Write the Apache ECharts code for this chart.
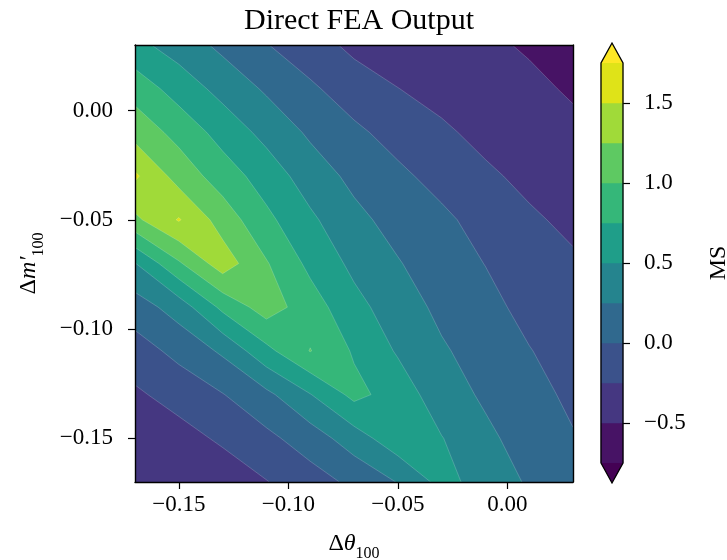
<!DOCTYPE html>
<html>
<head>
<meta charset="utf-8">
<title>Direct FEA Output</title>
<script src="https://cdn.jsdelivr.net/npm/echarts@6.0.0/dist/echarts.min.js"></script>
<style>
html,body{margin:0;padding:0;background:#fff;}
#chart{width:727px;height:560px;}
</style>
</head>
<body>
<div id="chart"></div>
<script>
// sample positions of the FEA runs
var thetaVals = [-0.17, -0.15, -0.13, -0.11, -0.09, -0.07, -0.05, -0.03, -0.01, 0.01, 0.03];
var mVals     = [-0.17, -0.15, -0.13, -0.11, -0.09, -0.07, -0.05, -0.03, -0.01, 0.01, 0.03];

// MS, one row per dm'100 value, left to right along dtheta100
var ms_m017 = [-0.42, -0.40, -0.40, -0.26, -0.11, 0.055, 0.26, 0.58, 0.40, 0.22, 0.10];
var ms_m015 = [-0.36, -0.344, -0.21, -0.061, 0.122, 0.378, 0.66, 0.51, 0.30, 0.15, 0.016];
var ms_m013 = [-0.289, -0.156, -0.01, 0.19, 0.49, 0.82, 0.64, 0.36, 0.214, 0.08, -0.048];
var ms_m011 = [-0.112, 0.07, 0.29, 0.68, 1.01, 0.722, 0.474, 0.28, 0.142, 0.01, -0.106];
var ms_m009 = [0.126, 0.36, 0.81, 1.12, 0.87, 0.578, 0.371, 0.193, 0.07, -0.07, -0.165];
var ms_m007 = [0.49, 0.966, 1.384, 1.02, 0.688, 0.442, 0.267, 0.113, -0.005, -0.145, -0.223];
var ms_m005 = [1.196, 1.52, 1.14, 0.81, 0.545, 0.318, 0.159, 0.05, -0.09, -0.221, -0.293];
var ms_m003 = [1.54, 1.15, 0.88, 0.634, 0.382, 0.187, 0.05, -0.081, -0.217, -0.297, -0.371];
var ms_m001 = [1.156, 0.92, 0.653, 0.427, 0.21, 0.048, -0.088, -0.218, -0.304, -0.374, -0.449];
var ms_p001 = [0.90, 0.64, 0.42, 0.215, 0.039, -0.121, -0.247, -0.315, -0.382, -0.451, -0.527];
var ms_p003 = [0.567, 0.39, 0.19, 0.01, -0.14, -0.31, -0.35, -0.40, -0.46, -0.525, -0.605];

var levels = [-0.75, -0.5, -0.25, 0, 0.25, 0.5, 0.75, 1.0, 1.25, 1.5, 1.75];
var bandColors = ['#471365', '#453781', '#3b528b', '#30698e', '#25848e',
                  '#1f9e89', '#35b779', '#5ec962', '#a0da39', '#dfe318'];
var underColor = '#440154';
var overColor = '#fde725';

var xTicks = [-0.15, -0.10, -0.05, 0.00];
var yTicks = [-0.15, -0.10, -0.05, 0.00];
var cbTicks = [-0.5, 0.0, 0.5, 1.0, 1.5];

var msGrid = [ms_m017, ms_m015, ms_m013, ms_m011, ms_m009, ms_m007,
              ms_m005, ms_m003, ms_m001, ms_p001, ms_p003];

var serif = 'Liberation Serif';
var extendFrac = 0.05;

// layer 0 = whole field, layer k = region where MS >= levels[k-1]
var layerColors = [underColor].concat(bandColors, [overColor]);
var layers = layerColors.map(function (c, k) { return [thetaVals[0], mVals[0], k]; });

function fmt(v, d) {
    return (v < -1e-9 ? '\u2212' : '') + Math.abs(v).toFixed(d);
}

function cellCorners(i, j) {
    return [
        {x: thetaVals[i],     y: mVals[j],     v: msGrid[j][i]},
        {x: thetaVals[i + 1], y: mVals[j],     v: msGrid[j][i + 1]},
        {x: thetaVals[i + 1], y: mVals[j + 1], v: msGrid[j + 1][i + 1]},
        {x: thetaVals[i],     y: mVals[j + 1], v: msGrid[j + 1][i]}
    ];
}

// the quad, or two triangles when the level makes a saddle
// (diagonal picked from the cell centre value, like contourf)
function levelPieces(c, L) {
    var s = c.map(function (p) { return p.v >= L; });
    if (!(s[0] === s[2] && s[1] === s[3] && s[0] !== s[1])) return [c];
    var mid = (c[0].v + c[1].v + c[2].v + c[3].v) / 4;
    var joinHigh = mid >= L;
    if (s[0] === joinHigh) return [[c[0], c[1], c[2]], [c[0], c[2], c[3]]];
    return [[c[1], c[2], c[3]], [c[1], c[3], c[0]]];
}

function abovePoly(poly, L) {
    var out = [];
    for (var k = 0; k < poly.length; k++) {
        var a = poly[k], b = poly[(k + 1) % poly.length];
        if (a.v >= L) out.push([a.x, a.y]);
        if ((a.v < L) !== (b.v < L)) {
            var t = (L - a.v) / (b.v - a.v);
            out.push([a.x + t * (b.x - a.x), a.y + t * (b.y - a.y)]);
        }
    }
    return out.length >= 3 ? out : null;
}

function crossings(poly, L) {
    var out = [];
    for (var k = 0; k < poly.length; k++) {
        var a = poly[k], b = poly[(k + 1) % poly.length];
        if ((a.v < L) !== (b.v < L)) {
            var t = (L - a.v) / (b.v - a.v);
            out.push([a.x + t * (b.x - a.x), a.y + t * (b.y - a.y)]);
        }
    }
    return out;
}

// one path per layer so cells of the same colour leave no seams
function renderLayer(params, api) {
    var k = api.value(2);
    var d = '';
    for (var j = 0; j < mVals.length - 1; j++) {
        for (var i = 0; i < thetaVals.length - 1; i++) {
            var c = cellCorners(i, j);
            var polys = [];
            if (k === 0) {
                polys.push(c.map(function (p) { return [p.x, p.y]; }));
            } else {
                var L = levels[k - 1];
                levelPieces(c, L).forEach(function (piece) {
                    var pp = abovePoly(piece, L);
                    if (pp) polys.push(pp);
                });
            }
            polys.forEach(function (pp) {
                pp.forEach(function (p, n) {
                    var q = api.coord(p);
                    d += (n === 0 ? 'M' : 'L') + q[0].toFixed(2) + ' ' + q[1].toFixed(2) + ' ';
                });
                d += 'Z ';
            });
        }
    }
    if (!d) return null;
    return {
        type: 'path',
        shape: {pathData: d},
        style: {fill: layerColors[k], stroke: null}
    };
}

function renderSeam(params, api) {
    var k = api.value(2);
    if (k === 0) return null;
    var L = levels[k - 1];
    var d = '';
    for (var j = 0; j < mVals.length - 1; j++) {
        for (var i = 0; i < thetaVals.length - 1; i++) {
            levelPieces(cellCorners(i, j), L).forEach(function (piece) {
                var cr = crossings(piece, L);
                if (cr.length !== 2) return;
                var p0 = api.coord(cr[0]), p1 = api.coord(cr[1]);
                d += 'M' + p0[0].toFixed(2) + ' ' + p0[1].toFixed(2) +
                     ' L' + p1[0].toFixed(2) + ' ' + p1[1].toFixed(2) + ' ';
            });
        }
    }
    if (!d) return null;
    return {
        type: 'path',
        shape: {pathData: d},
        style: {fill: null, stroke: 'rgba(255,255,255,0.3)', lineWidth: 0.6}
    };
}

function renderColorbar(params, api) {
    var ch = [];
    var lo = levels[0], hi = levels[levels.length - 1];
    var ext = (hi - lo) * extendFrac;
    for (var k = 0; k < levels.length - 1; k++) {
        var p0 = api.coord([0, levels[k]]), p1 = api.coord([1, levels[k + 1]]);
        ch.push({
            type: 'rect',
            shape: {x: p0[0], y: p1[1], width: p1[0] - p0[0], height: p0[1] - p1[1]},
            style: {fill: bandColors[k], stroke: bandColors[k], lineWidth: 0.5}
        });
    }
    var bl = api.coord([0, lo]), br = api.coord([1, lo]), bt = api.coord([0.5, lo - ext]);
    var tl = api.coord([0, hi]), tr = api.coord([1, hi]), tt = api.coord([0.5, hi + ext]);
    ch.push({type: 'polygon', shape: {points: [bl, br, bt]}, style: {fill: underColor}});
    ch.push({type: 'polygon', shape: {points: [tl, tr, tt]}, style: {fill: overColor}});
    ch.push({
        type: 'polygon',
        shape: {points: [bl, bt, br, tr, tt, tl]},
        style: {fill: 'none', stroke: '#000', lineWidth: 1.3}
    });
    return {type: 'group', children: ch};
}

var nameRich = {
    a: {fontFamily: serif, fontSize: 24, color: '#000', lineHeight: 36, verticalAlign: 'middle'},
    b: {fontFamily: serif, fontSize: 24, color: '#000', fontStyle: 'italic', lineHeight: 36, verticalAlign: 'middle'},
    s: {fontFamily: serif, fontSize: 16, color: '#000', verticalAlign: 'bottom'}
};

var frameLine = {show: true, onZero: false, lineStyle: {color: '#000', width: 1.4}};
var tickStyle = {color: '#000', width: 1.2};

var chart = echarts.init(document.getElementById('chart'));
chart.setOption({
    animation: false,
    backgroundColor: '#fff',
    title: {
        text: 'Direct FEA Output',
        left: 354, top: 1, textAlign: 'center',
        textStyle: {fontFamily: serif, fontWeight: 'normal', fontSize: 30, color: '#000'}
    },
    grid: [
        {left: 135, top: 45, width: 438, height: 437, outerBoundsMode: 'none'},
        {left: 601, top: 63, width: 22, height: 400, outerBoundsMode: 'none'}
    ],
    xAxis: [{
        gridIndex: 0, type: 'value', min: -0.17, max: 0.03, position: 'bottom', z: 10,
        axisLine: frameLine,
        axisTick: {show: true, length: 7, customValues: xTicks, lineStyle: tickStyle},
        axisLabel: {customValues: xTicks, margin: 11, formatter: function (v) { return fmt(v, 2); },
                    fontFamily: serif, fontSize: 23, color: '#000'},
        splitLine: {show: false},
        name: '{a|\u0394}{b|\u03b8}{s|100}', nameLocation: 'middle', nameGap: 44,
        nameTextStyle: {rich: nameRich}
    }, {
        gridIndex: 0, type: 'value', min: -0.17, max: 0.03, position: 'top', z: 10,
        axisLine: frameLine, axisTick: {show: false}, axisLabel: {show: false}, splitLine: {show: false}
    }, {
        gridIndex: 1, type: 'value', min: 0, max: 1, show: false
    }],
    yAxis: [{
        gridIndex: 0, type: 'value', min: -0.17, max: 0.03, position: 'left', z: 10,
        axisLine: frameLine,
        axisTick: {show: true, length: 7, customValues: yTicks, lineStyle: tickStyle},
        axisLabel: {customValues: yTicks, margin: 22, formatter: function (v) { return fmt(v, 2); },
                    fontFamily: serif, fontSize: 23, color: '#000'},
        splitLine: {show: false},
        name: '{a|\u0394}{b|m\u2032}{s|100}', nameLocation: 'middle', nameGap: 88, nameRotate: 90,
        nameTextStyle: {rich: nameRich}
    }, {
        gridIndex: 0, type: 'value', min: -0.17, max: 0.03, position: 'right', z: 10,
        axisLine: frameLine, axisTick: {show: false}, axisLabel: {show: false}, splitLine: {show: false}
    }, {
        gridIndex: 1, type: 'value', min: levels[0], max: levels[levels.length - 1], position: 'right',
        axisLine: {show: false, onZero: false},
        axisTick: {show: true, length: 7, customValues: cbTicks, lineStyle: tickStyle},
        axisLabel: {customValues: cbTicks, margin: 21, formatter: function (v) { return fmt(v, 1); },
                    fontFamily: serif, fontSize: 23, color: '#000'},
        splitLine: {show: false},
        name: 'MS', nameLocation: 'middle', nameGap: 84, nameRotate: 90,
        nameTextStyle: {fontFamily: serif, fontSize: 24, color: '#000'}
    }],
    series: [{
        type: 'custom', xAxisIndex: 0, yAxisIndex: 0, z: 2, silent: true,
        data: layers, renderItem: renderLayer
    }, {
        type: 'custom', xAxisIndex: 0, yAxisIndex: 0, z: 3, silent: true,
        data: layers, renderItem: renderSeam
    }, {
        type: 'custom', xAxisIndex: 2, yAxisIndex: 2, z: 3, silent: true,
        data: [[0.5, 0.5]], renderItem: renderColorbar
    }]
});
window.addEventListener('resize', function () { chart.resize(); });
</script>
</body>
</html>
